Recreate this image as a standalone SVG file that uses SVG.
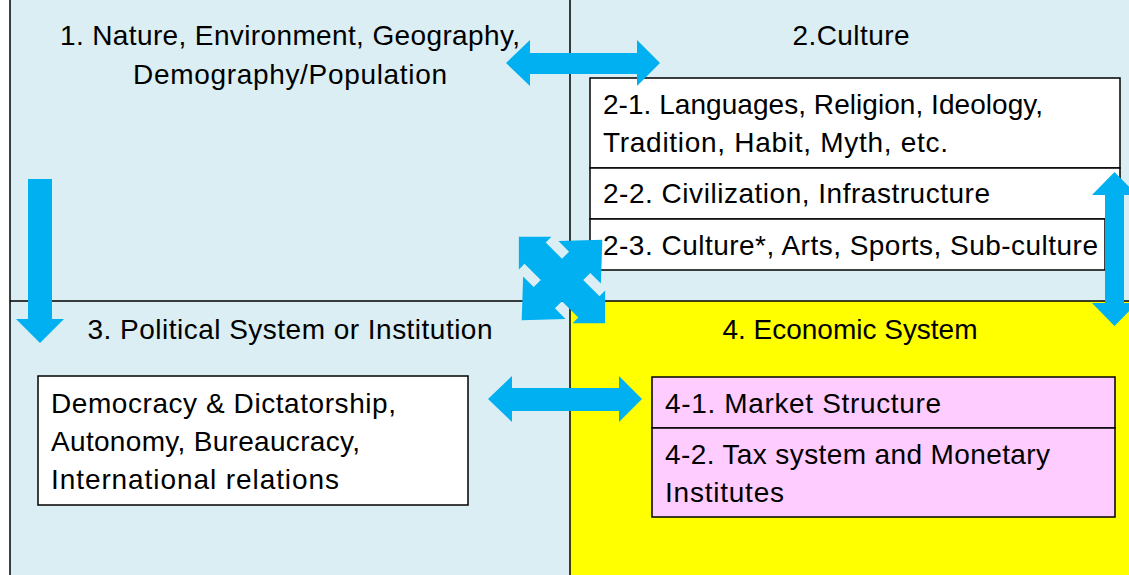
<svg xmlns="http://www.w3.org/2000/svg" width="1129" height="575" viewBox="0 0 1129 575">
  <style>
    .t { font-family: "Liberation Sans", Arial, sans-serif; font-size: 28px; fill: #000; }
    .box { stroke: #000; stroke-width: 1.5; }
    .grid { stroke: #000; stroke-width: 1.5; fill: none; }
    .arrow { fill: #00B0F0; }
  </style>

  <!-- quadrant backgrounds -->
  <g id="quadrants">
    <rect x="10" y="0" width="1119" height="575" fill="#DAEEF3"/>
    <rect x="570" y="301" width="559" height="274" fill="#FFFF00"/>
    <path class="grid" d="M10 0 V575 M570 0 V575 M10 301 H1129"/>
  </g>

  <!-- 1. Nature -->
  <g id="nature">
    <text class="t" x="290" y="45" text-anchor="middle" textLength="460">1. Nature, Environment, Geography,</text>
    <text class="t" x="290" y="84" text-anchor="middle" textLength="314">Demography/Population</text>
  </g>

  <!-- 2. Culture -->
  <g id="culture">
    <text class="t" x="851" y="45" text-anchor="middle" textLength="117">2.Culture</text>
    <g id="culture-2-1">
      <rect class="box" x="590" y="78" width="530" height="90" fill="#FFFFFF"/>
      <text class="t" x="603" y="114" textLength="440">2-1. Languages, Religion, Ideology,</text>
      <text class="t" x="603" y="152" textLength="345">Tradition, Habit, Myth, etc.</text>
    </g>
    <g id="culture-2-2">
      <rect class="box" x="590" y="168" width="530" height="51" fill="#FFFFFF"/>
      <text class="t" x="603" y="203" textLength="387">2-2. Civilization, Infrastructure</text>
    </g>
    <g id="culture-2-3">
      <rect class="box" x="590" y="219" width="515" height="51" fill="#FFFFFF"/>
      <text class="t" x="603" y="255" textLength="495">2-3. Culture*, Arts, Sports, Sub-culture</text>
    </g>
  </g>

  <!-- 3. Political system -->
  <g id="political">
    <text class="t" x="290" y="339" text-anchor="middle" textLength="405">3. Political System or Institution</text>
    <rect class="box" x="38" y="376" width="430" height="129" fill="#FFFFFF"/>
    <text class="t" x="51" y="413" textLength="345">Democracy &amp; Dictatorship,</text>
    <text class="t" x="51" y="451" textLength="309">Autonomy, Bureaucracy,</text>
    <text class="t" x="51" y="489" textLength="288">International relations</text>
  </g>

  <!-- 4. Economic system -->
  <g id="economic">
    <text class="t" x="850" y="339" text-anchor="middle" textLength="255">4. Economic System</text>
    <g id="economic-4-1">
      <rect class="box" x="652" y="377" width="463" height="51" fill="#FFCCFF"/>
      <text class="t" x="665" y="413" textLength="276">4-1. Market Structure</text>
    </g>
    <g id="economic-4-2">
      <rect class="box" x="652" y="428" width="463" height="89" fill="#FFCCFF"/>
      <text class="t" x="665" y="464" textLength="385">4-2. Tax system and Monetary</text>
      <text class="t" x="665" y="502" textLength="119">Institutes</text>
    </g>
  </g>

  <!-- block arrows between the quadrants -->
  <g id="connectors">
    <polygon class="arrow" points="506,63 530,40 530,53 637,53 637,40 660,63 637,86 637,74 530,74 530,86"/>
    <polygon class="arrow" points="488,399 512,376 512,388 619,388 619,376 642,399 619,422 619,411 512,411 512,422"/>
    <polygon class="arrow" points="28,179 52,179 52,319 64,319 40,343 16,319 28,319"/>
    <polygon class="arrow" points="1114.5,172 1137,195 1124,195 1124,303 1137,303 1114.5,326 1092,303 1105,303 1105,195 1092,195"/>
    <!-- crossed double arrows: a long one (TL-BR) and a short, wide-headed one (TR-BL) -->
    <polygon class="arrow" transform="translate(562,280) rotate(45)"
      points="61,0 38,23 38,15 15,15 15,25 30,25 0,57 -30,25 -15,25 -15,15 -38,15 -38,23 -61,0 -38,-23 -38,-15 -15,-15 -15,-25 -30,-25 0,-57 30,-25 15,-25 15,-15 38,-15 38,-23"/>
  </g>
</svg>
